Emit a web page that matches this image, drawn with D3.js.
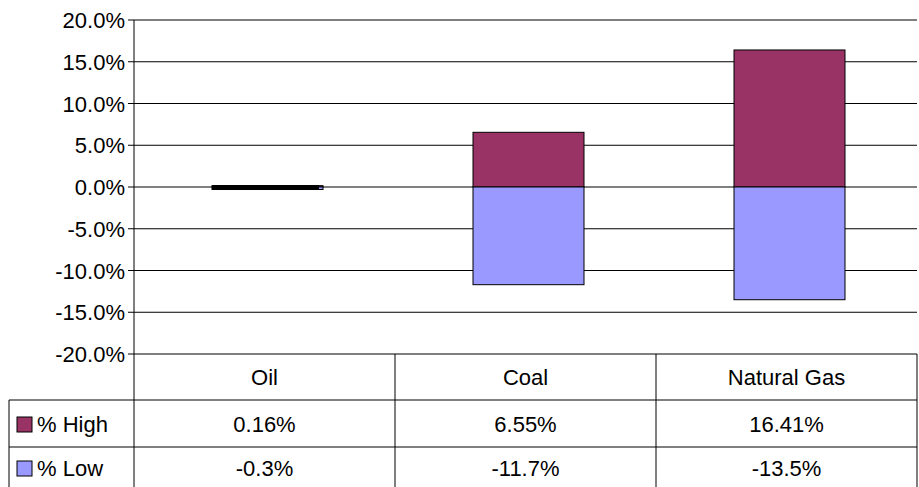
<!DOCTYPE html>
<html><head><meta charset="utf-8">
<script src="https://cdn.jsdelivr.net/npm/d3@7"></script>
<style>body{margin:0;background:#fff}text{font-family:Arial,"Liberation Sans",sans-serif;font-size:22px;fill:#000}</style>
</head><body><div class="container"></div>
<script>
const categories = ['Oil', 'Coal', 'Natural Gas'];
const high = [0.16, 6.55, 16.41];
const low = [-0.3, -11.7, -13.5];
const highLabels = ['0.16%', '6.55%', '16.41%'];
const lowLabels = ['-0.3%', '-11.7%', '-13.5%'];
const ticks = [20, 15, 10, 5, 0, -5, -10, -15, -20];

const width = 919, height = 487;
const plotLeft = 134, plotRight = 917, plotTop = 20, plotBottom = 354;
const svg = d3.select('.container').append('svg').attr('width', width).attr('height', height);

const x = d3.scaleBand().domain(categories).range([plotLeft, plotRight]).paddingInner(0).paddingOuter(0);
const y = d3.scaleLinear().domain([-20, 20]).range([plotBottom, plotTop]);

// gridlines
svg.append('g').selectAll('line').data(ticks).enter().append('line')
  .attr('x1', plotLeft - 6).attr('x2', plotRight).attr('y1', d => y(d)).attr('y2', d => y(d))
  .attr('stroke', '#000').attr('stroke-width', 1);
svg.append('g').selectAll('text').data(ticks).enter().append('text')
  .attr('x', plotLeft - 9).attr('y', d => y(d) + 8).attr('text-anchor', 'end')
  .text(d => d.toFixed(1) + '%');
svg.append('line').attr('x1', plotLeft).attr('x2', plotLeft).attr('y1', plotTop).attr('y2', height)
  .attr('stroke', '#000');

const bw = 111;
const bx = d => x(d) + (x.bandwidth() - bw) / 2 + 3;
svg.append('g').selectAll('rect').data(categories).enter().append('rect')
  .attr('x', d => bx(d)).attr('width', bw)
  .attr('y', (d, i) => y(high[i])).attr('height', (d, i) => y(0) - y(high[i]))
  .attr('fill', '#993366').attr('stroke', '#000');
svg.append('g').selectAll('rect').data(categories).enter().append('rect')
  .attr('x', d => bx(d)).attr('width', bw)
  .attr('y', y(0)).attr('height', (d, i) => y(low[i]) - y(0))
  .attr('fill', '#9999ff').attr('stroke', '#000');
// oil bar is too thin: draw as thick line
svg.append('line').attr('x1', bx('Oil')).attr('x2', bx('Oil') + bw - 4)
  .attr('y1', y(0)).attr('y2', y(0)).attr('stroke', '#000').attr('stroke-width', 4);

// data table
const rows = [354, 400, 447, 487];
const tl = 9;
svg.append('line').attr('x1', tl).attr('x2', plotRight).attr('y1', rows[1]).attr('y2', rows[1]).attr('stroke', '#000');
svg.append('line').attr('x1', tl).attr('x2', plotRight).attr('y1', rows[2]).attr('y2', rows[2]).attr('stroke', '#000');
svg.append('line').attr('x1', tl).attr('x2', tl).attr('y1', rows[1]).attr('y2', height).attr('stroke', '#000');
categories.forEach((c, i) => {
  svg.append('line').attr('x1', x(c) + x.bandwidth()).attr('x2', x(c) + x.bandwidth())
    .attr('y1', rows[0]).attr('y2', height).attr('stroke', '#000');
  const cx = x(c) + x.bandwidth() / 2;
  svg.append('text').attr('x', cx).attr('y', 385).attr('text-anchor', 'middle').text(c);
  svg.append('text').attr('x', cx).attr('y', 432).attr('text-anchor', 'middle').text(highLabels[i]);
  svg.append('text').attr('x', cx).attr('y', 476).attr('text-anchor', 'middle').text(lowLabels[i]);
});
[['% High', '#993366', 432], ['% Low', '#9999ff', 476]].forEach(([t, col, ty]) => {
  svg.append('rect').attr('x', 17).attr('y', ty - 15).attr('width', 15).attr('height', 15)
    .attr('fill', col).attr('stroke', '#000');
  svg.append('text').attr('x', 37).attr('y', ty).text(t);
});
</script></body></html>
